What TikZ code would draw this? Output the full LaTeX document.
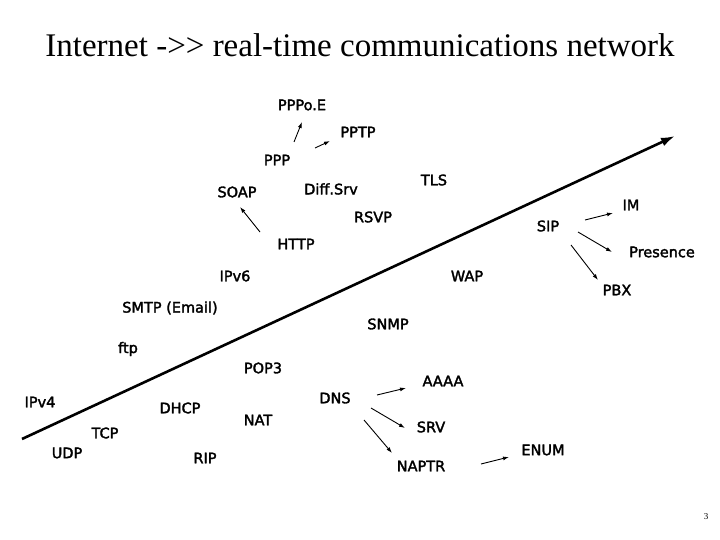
\documentclass[tikz,border=0pt]{standalone}
\usepackage{fontspec}
\setmainfont{Liberation Serif}
\newfontfamily\lbl{DejaVu Sans}[FakeBold=2.2]
\usetikzlibrary{arrows.meta}
\begin{document}
\begin{tikzpicture}[x=1pt,y=-1pt,
  lab/.style={font=\lbl\fontsize{14.5}{16}\selectfont,inner sep=0pt},
  arr/.style={-{Latex[length=6pt,width=4pt]},line width=0.9pt}]
\useasboundingbox (0,0) rectangle (720,540);
\node[font=\fontsize{33}{36}\selectfont] (title) at (360,45) {Internet -{>}{>} real-time communications network};
\coordinate (ms) at (22,439); \coordinate (me) at (675,136);
\draw[-{Latex[length=14pt,width=9pt]},line width=2.6pt] (ms) -- (me);
\foreach \n/\x/\y/\t in {pppoe/302/105/PPPo.E, pptp/358/132/PPTP, ppp/277/160/PPP, tls/434/180/TLS,
 soap/237/192/SOAP, diff/331/189/Diff.Srv, im/631/205/IM, rsvp/373/217/RSVP, sip/548/226/SIP,
 http/296/244/HTTP, pres/662/252/Presence, ipv6/235/276/IPv6, wap/467/276/WAP, pbx/617/290/PBX,
 smtp/170/308/SMTP (Email), snmp/388/324/SNMP, ftp/128/349/ftp, pop/263/368/POP3, aaaa/443/381/AAAA,
 ipv4/40/402/IPv4, dhcp/180/408/DHCP, dns/335/398/DNS, nat/258/420/NAT, tcp/105/433/TCP, srv/431/427/SRV,
 udp/67/453/UDP, rip/205/458/RIP, enum/543/450/ENUM, naptr/421/466/NAPTR}
  \node[lab] (\n) at (\x,\y) {\t};
\node[font=\fontsize{9}{10}\selectfont] (pg) at (706,517) {3};
\foreach \a/\b/\c/\d in {294/142/302/122, 315/148/330/141, 260/232/240/207, 585/220/613/213,
 578/232/612/252, 571/245/598/280, 377/395/406/388, 371/408/405/428, 364/420/392/453, 481/464/509/457}
  \draw[arr] (\a,\b) coordinate (s) -- (\c,\d) coordinate (t);
\end{tikzpicture}
\end{document}
